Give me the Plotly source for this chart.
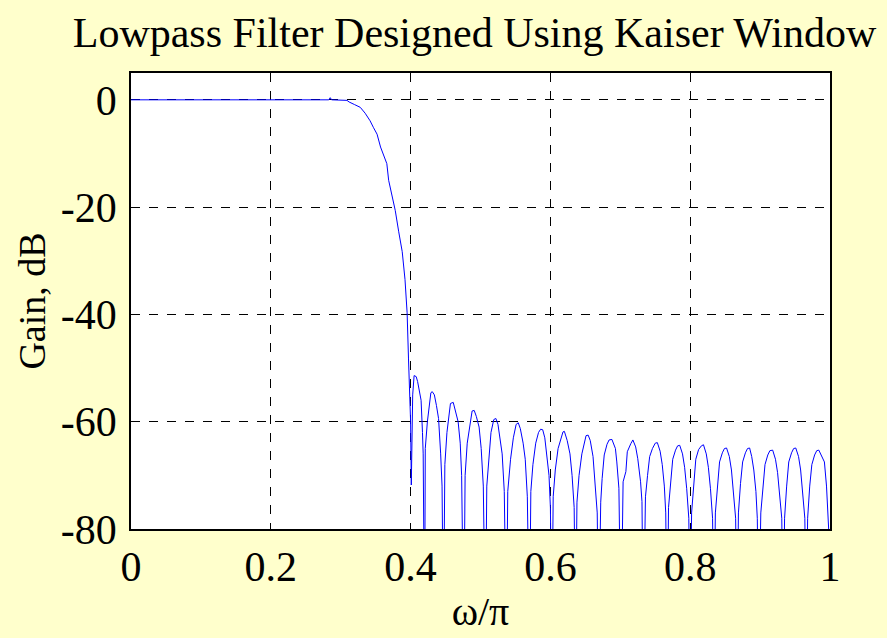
import plotly.graph_objects as go

# Passband and transition band of the lowpass response (normalized frequency, gain in dB)
pass_freq = [0.0, 0.283, 0.285, 0.287, 0.309, 0.312, 0.320, 0.328, 0.335, 0.342, 0.347,
             0.352, 0.357, 0.362, 0.366, 0.3686, 0.3734, 0.378, 0.383, 0.388, 0.392, 0.395, 0.397]
pass_gain = [0.0, 0.0, 0.4, 0.0, -0.1, -0.4, -0.9, -1.4, -2.5, -3.9, -5.2,
             -6.4, -8.8, -10.5, -11.9, -15.0, -17.8, -20.6, -24.6, -28.3, -33.5, -39.7, -48.3]

# Stopband ripple: one row per sidelobe
stop_freq = [
    0.400, 0.401, 0.403, 0.405, 0.408, 0.410, 0.413, 0.415, 0.417, 0.418, 0.420,
    0.421, 0.424, 0.427, 0.429, 0.431, 0.434, 0.437, 0.440, 0.443, 0.445, 0.447,
    0.449, 0.452, 0.455, 0.457, 0.461, 0.464, 0.468, 0.471, 0.473, 0.476,
    0.478, 0.481, 0.485, 0.488, 0.491, 0.494, 0.498, 0.501, 0.504, 0.507,
    0.509, 0.512, 0.515, 0.519, 0.522, 0.525, 0.528, 0.531, 0.534, 0.537,
    0.539, 0.543, 0.547, 0.551, 0.554, 0.557, 0.561, 0.564, 0.567, 0.570,
    0.572, 0.575, 0.579, 0.583, 0.586, 0.589, 0.592, 0.595, 0.598, 0.600, 0.602,
    0.604, 0.607, 0.611, 0.615, 0.618, 0.620, 0.624, 0.628, 0.631, 0.634, 0.636,
    0.638, 0.641, 0.645, 0.648, 0.651, 0.654, 0.657, 0.661, 0.664, 0.667, 0.669,
    0.672, 0.674, 0.677, 0.681, 0.684, 0.688, 0.693, 0.695, 0.698, 0.701,
    0.704, 0.708, 0.710, 0.715, 0.718, 0.722, 0.725, 0.729, 0.731, 0.733,
    0.736, 0.739, 0.742, 0.746, 0.750, 0.753, 0.757, 0.760, 0.763, 0.765, 0.767,
    0.769, 0.772, 0.775, 0.779, 0.782, 0.785, 0.789, 0.792, 0.795, 0.798, 0.800,
    0.802, 0.805, 0.808, 0.812, 0.816, 0.819, 0.823, 0.826, 0.829, 0.832, 0.834,
    0.836, 0.839, 0.842, 0.846, 0.849, 0.852, 0.856, 0.859, 0.862, 0.865, 0.867,
    0.869, 0.872, 0.875, 0.879, 0.882, 0.885, 0.888, 0.891, 0.894, 0.896, 0.898,
    0.901, 0.904, 0.907, 0.911, 0.914, 0.918, 0.922, 0.925, 0.928, 0.931, 0.933,
    0.935, 0.938, 0.941, 0.945, 0.948, 0.951, 0.955, 0.958, 0.961, 0.964, 0.966,
    0.968, 0.971, 0.974, 0.978, 0.981, 0.984, 0.988, 0.992, 0.995, 0.997, 1.000,
]
stop_gain = [
    -60.0, -71.8, -55.0, -51.4, -51.6, -52.5, -55.0, -56.0, -62.0, -66.0, -100,
    -65.0, -60.0, -57.0, -54.6, -54.4, -55.0, -57.0, -59.4, -66.0, -72.0, -100,
    -68.0, -62.0, -59.0, -56.6, -56.4, -58.0, -60.0, -64.0, -70.0, -100,
    -70.0, -64.0, -60.0, -58.0, -57.9, -59.0, -61.0, -65.0, -72.0, -100,
    -72.0, -66.0, -62.0, -59.6, -59.4, -60.5, -63.0, -66.0, -73.0, -100,
    -73.0, -67.0, -63.0, -60.5, -60.2, -61.3, -64.0, -67.0, -74.0, -100,
    -73.0, -68.0, -64.0, -62.0, -61.4, -61.5, -63.0, -66.0, -70.0, -76.0, -100,
    -74.0, -69.0, -65.0, -63.0, -61.9, -61.8, -63.5, -66.0, -70.0, -76.0, -100,
    -75.0, -70.0, -66.0, -64.0, -62.6, -62.5, -63.5, -66.5, -71.0, -77.0, -100,
    -75.0, -70.6, -66.2, -64.2, -63.4, -63.3, -65.0, -67.5, -72.4, -100,
    -71.2, -69.3, -65.6, -64.1, -63.4, -64.7, -66.9, -71.2, -74.9, -100,
    -74.0, -70.0, -66.5, -65.0, -64.0, -63.9, -65.5, -68.0, -72.0, -77.0, -100,
    -76.0, -71.0, -67.0, -65.3, -64.5, -64.4, -66.0, -68.5, -72.5, -78.0, -100,
    -77.0, -71.0, -67.0, -65.2, -64.5, -64.3, -66.0, -68.5, -72.5, -78.0, -100,
    -77.0, -71.5, -67.5, -65.8, -65.0, -64.9, -66.5, -69.0, -73.0, -78.0, -100,
    -77.0, -71.5, -67.5, -65.8, -65.0, -64.9, -66.5, -69.0, -73.0, -78.0, -100,
    -77.0, -72.0, -68.0, -66.2, -65.4, -65.3, -67.0, -69.5, -73.5, -78.0, -100,
    -78.0, -72.0, -67.5, -65.8, -65.0, -64.9, -66.5, -69.0, -73.0, -78.0, -100,
    -78.0, -72.0, -68.0, -66.2, -65.4, -65.3, -66.5, -67.5, -72.0, -76.7, -85.0,
]

x_ticks = [0, 0.2, 0.4, 0.6, 0.8, 1]
x_tick_text = ["0", "0.2", "0.4", "0.6", "0.8", "1"]
y_ticks = [0, -20, -40, -60, -80]
y_tick_text = ["0", "-20", "-40", "-60", "-80"]

SERIF = "Liberation Serif, Times New Roman, serif"

fig = go.Figure()
fig.add_trace(go.Scatter(
    x=pass_freq + stop_freq,
    y=pass_gain + stop_gain,
    mode="lines",
    line=dict(color="#0000FF", width=1),
    showlegend=False,
    hoverinfo="skip",
))

axis_common = dict(
    showline=True, linecolor="black", linewidth=1.5, mirror=True,
    showgrid=True, gridcolor="black", gridwidth=1, griddash="dash",
    zeroline=False, ticks="", tickfont=dict(family=SERIF, size=42, color="black"),
)

fig.update_layout(
    width=887, height=638,
    paper_bgcolor="#FFFFCC", plot_bgcolor="white",
    margin=dict(l=131, r=57, t=73, b=107),
    title=dict(text="Lowpass Filter Designed Using Kaiser Window",
               x=0.535, xref="container", xanchor="center", y=0.95, yref="container",
               yanchor="middle",
               font=dict(family=SERIF, size=42, color="black")),
    xaxis=dict(range=[0, 1], tickvals=x_ticks, ticktext=x_tick_text,
               ticklabelstandoff=0,
               title=dict(text="ω/π", font=dict(family=SERIF, size=40, color="black"), standoff=8),
               **axis_common),
    yaxis=dict(range=[-80, 5], tickvals=y_ticks, ticktext=y_tick_text,
               ticklabelstandoff=4,
               title=dict(text="Gain, dB", font=dict(family=SERIF, size=38, color="black"), standoff=4),
               **axis_common),
)

fig.write_html("out.html")
